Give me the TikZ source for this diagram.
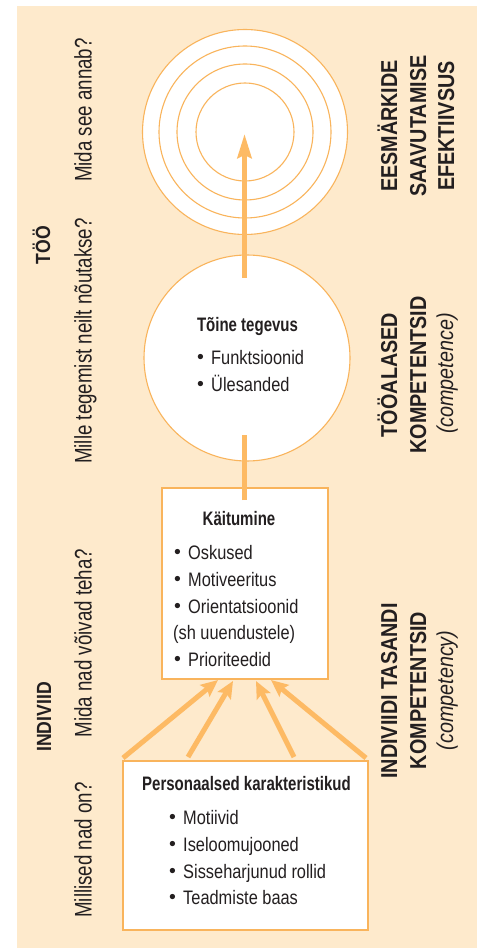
\documentclass[tikz,border=0pt]{standalone}
\usepackage{fontspec}
\usetikzlibrary{arrows.meta}
\setmainfont{Liberation Sans}
% condensed faces built from Liberation Sans
\newfontfamily\bodyfont{Liberation Sans}[FakeStretch=0.84]
\newfontfamily\titlefont{Liberation Sans}[FakeStretch=0.77]
\newfontfamily\askfont{Liberation Sans}[FakeStretch=0.78]
\newfontfamily\headfont{Liberation Sans}[FakeStretch=0.86]
\newfontfamily\plainfont{Liberation Sans}
\definecolor{paper}{RGB}{254,234,204}
\definecolor{ring}{RGB}{249,180,92}
\definecolor{flow}{RGB}{253,186,100}
\definecolor{ink}{RGB}{35,31,32}
\newcommand{\bul}{\makebox[14pt][l]{\plainfont\raisebox{0.6pt}{\textbullet}}}
\begin{document}
\begin{tikzpicture}[x=1pt,y=-1pt,
  ringline/.style={draw=ring,line width=1.1pt,fill=white},
  boxline/.style={draw=ring,line width=1.5pt,fill=white,inner sep=0pt,outer sep=0pt},
  link/.style={draw=flow,line width=5pt},
  bigarrow/.style={link,-{Stealth[length=24pt,width=14pt,inset=3pt]}},
  feedarrow/.style={link,-{Stealth[length=17pt,width=15pt,inset=3pt]}},
  ask/.style={rotate=90,anchor=base,inner sep=0pt,text=ink,font=\askfont\fontsize{24}{28}\selectfont},
  side/.style={rotate=90,anchor=base,inner sep=0pt,text=ink,font=\headfont\bfseries\fontsize{20.5}{24}\selectfont},
  head/.style={rotate=90,anchor=base,inner sep=0pt,text=ink,font=\headfont\bfseries\fontsize{23}{28}\selectfont},
  note/.style={rotate=90,anchor=base,inner sep=0pt,text=ink,font=\headfont\itshape\fontsize{23}{28}\selectfont},
  ttl/.style={anchor=base,inner sep=0pt,text=ink,font=\titlefont\bfseries\fontsize{19.5}{24}\selectfont},
  item/.style={anchor=base west,inner sep=0pt,text=ink,font=\bodyfont\fontsize{19.5}{24}\selectfont}]
\useasboundingbox (0,0) rectangle (477,949);
% background panel
\fill[paper] (17,6) rectangle (477,948);

% target rings
\node[circle,ringline,minimum size=205pt,inner sep=0pt] (r1) at (245,132) {};
\node[circle,draw=ring,line width=1.1pt,minimum size=172pt,inner sep=0pt] (r2) at (245,132) {};
\node[circle,draw=ring,line width=1.1pt,minimum size=136pt,inner sep=0pt] (r3) at (245,132) {};
\node[circle,draw=ring,line width=1.1pt,minimum size=98pt,inner sep=0pt] (r4) at (245,132) {};

% work activity circle
\node[circle,ringline,minimum size=206pt,inner sep=0pt] (act) at (247,358) {};

% behaviour box and personal characteristics box
\node[boxline,minimum width=166pt,minimum height=191pt] (beh) at (245,583.5) {};
\node[boxline,minimum width=245pt,minimum height=169pt] (pers) at (245.5,845.5) {};

% connector end points
\coordinate (up0) at (244.5,278);
\coordinate (up1) at (244.5,134);
\coordinate (lk0) at (244.5,500);
\coordinate (lk1) at (244.5,435);
\coordinate (f1s) at (123,758);  \coordinate (f1e) at (218,680);
\coordinate (f2s) at (188,757);  \coordinate (f2e) at (233,681);
\coordinate (f3s) at (294,757);  \coordinate (f3e) at (256,681);
\coordinate (f4s) at (366,758);  \coordinate (f4e) at (271,680);

\draw[bigarrow] (up0) -- (up1);
\draw[link] (lk0) -- (lk1);
\draw[feedarrow] (f1s) -- (f1e);
\draw[feedarrow] (f2s) -- (f2e);
\draw[feedarrow] (f3s) -- (f3e);
\draw[feedarrow] (f4s) -- (f4e);

% left column
\node[side] (lt) at (50,245) {TÖÖ};
\node[side] (li) at (51,717) {INDIVIID};
\node[ask] (q1) at (91.5,110) {Mida see annab?};
\node[ask] (q2) at (91.5,341) {Mille tegemist neilt nõutakse?};
\node[ask] (q3) at (91.5,643) {Mida nad võivad teha?};
\node[ask] (q4) at (91.5,850) {Millised nad on?};

% right column
\node[head] (h1a) at (397,126) {EESMÄRKIDE};
\node[head] (h1b) at (426,126) {SAAVUTAMISE};
\node[head] (h1c) at (454,126) {EFEKTIIVSUS};
\node[head] (h2a) at (397,375) {TÖÖALASED};
\node[head] (h2b) at (426,375) {KOMPETENTSID};
\node[note] (h2c) at (453,373.5) {(competence)};
\node[head] (h3a) at (397,691) {INDIVIIDI TASANDI};
\node[head] (h3b) at (426,690.5) {KOMPETENTSID};
\node[note] (h3c) at (453,690.5) {(competency)};

% texts of the work activity circle
\node[ttl] (t1) at (247.5,331) {Tõine tegevus};
\node[item] (t1a) at (197,364.5) {\bul Funktsioonid};
\node[item] (t1b) at (197,391.5) {\bul Ülesanded};

% texts of the behaviour box
\node[ttl] (t2) at (239,525) {Käitumine};
\node[item] (t2a) at (174,559) {\bul Oskused};
\node[item] (t2b) at (174,586) {\bul Motiveeritus};
\node[item] (t2c) at (174,613) {\bul Orientatsioonid};
\node[item] (t2d) at (173,639) {(sh uuendustele)};
\node[item] (t2e) at (174,666) {\bul Prioriteedid};

% texts of the personal characteristics box
\node[ttl] (t3) at (246.5,790) {Personaalsed karakteristikud};
\node[item] (t3a) at (169,824) {\bul Motiivid};
\node[item] (t3b) at (169,851) {\bul Iseloomujooned};
\node[item] (t3c) at (169,878) {\bul Sisseharjunud rollid};
\node[item] (t3d) at (169,904) {\bul Teadmiste baas};
\end{tikzpicture}
\end{document}
